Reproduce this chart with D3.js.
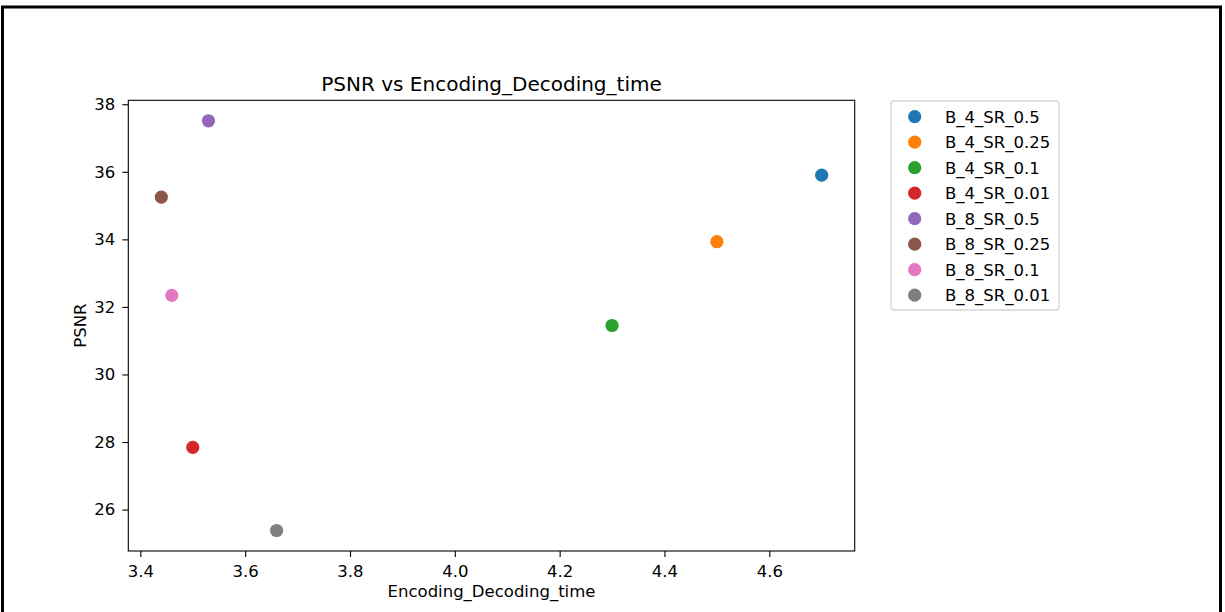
<!DOCTYPE html>
<html>
<head>
<meta charset="utf-8">
<script src="https://cdn.jsdelivr.net/npm/d3@7"></script>
<style>
  html, body { margin: 0; padding: 0; background: #fff; }
  svg { display: block; font-family: "DejaVu Sans", sans-serif; }
</style>
</head>
<body>
<svg id="chart" width="1225" height="612"></svg>
<script>
// ---- data ----
const labels = ["B_4_SR_0.5", "B_4_SR_0.25", "B_4_SR_0.1", "B_4_SR_0.01",
                "B_8_SR_0.5", "B_8_SR_0.25", "B_8_SR_0.1", "B_8_SR_0.01"];
const encodingTime = [4.70, 4.50, 4.30, 3.50, 3.53, 3.44, 3.46, 3.66];
const psnr = [35.90, 33.93, 31.45, 27.84, 37.51, 35.25, 32.34, 25.38];
const colors = ["#1f77b4", "#ff7f0e", "#2ca02c", "#d62728",
                "#9467bd", "#8c564b", "#e377c2", "#7f7f7f"];
const xTicks = [3.4, 3.6, 3.8, 4.0, 4.2, 4.4, 4.6];
const yTicks = [26, 28, 30, 32, 34, 36, 38];

const svg = d3.select("#chart");
const W = 1225, H = 612;

// outer frame
svg.append("rect").attr("x", 2.5).attr("y", 7).attr("width", 1218).attr("height", 700)
  .attr("fill", "none").attr("stroke", "#000").attr("stroke-width", 3);

const plot = { left: 128.3, right: 854.7, top: 100.3, bottom: 551 };

function padded(arr) {
  const [mn, mx] = d3.extent(arr);
  const m = (mx - mn) * 0.05;
  return [mn - m, mx + m];
}

const x = d3.scaleLinear().domain(padded(encodingTime)).range([plot.left, plot.right]);
const y = d3.scaleLinear().domain(padded(psnr)).range([plot.bottom, plot.top]);

const fs = 16.5;

// axes
const xAxis = svg.append("g").attr("transform", `translate(0,${plot.bottom})`)
  .call(d3.axisBottom(x).tickValues(xTicks).tickFormat(d3.format(".1f")).tickSize(6).tickPadding(8));
const yAxis = svg.append("g").attr("transform", `translate(${plot.left},0)`)
  .call(d3.axisLeft(y).tickValues(yTicks).tickFormat(d3.format("d")).tickSize(6).tickPadding(7));
[xAxis, yAxis].forEach(g => {
  g.select(".domain").remove();
  g.selectAll("line").attr("stroke", "#000").attr("stroke-width", 1.1);
  g.selectAll("text").attr("font-size", fs).attr("fill", "#000")
    .attr("font-family", "DejaVu Sans, sans-serif");
});

// spines
svg.append("rect").attr("x", plot.left).attr("y", plot.top)
  .attr("width", plot.right - plot.left).attr("height", plot.bottom - plot.top)
  .attr("fill", "none").attr("stroke", "#000").attr("stroke-width", 1.1);

// points
const pts = labels.map((l, i) => ({ label: l, x: encodingTime[i], y: psnr[i], c: colors[i] }));
svg.append("g").selectAll("circle").data(pts).join("circle")
  .attr("cx", d => x(d.x)).attr("cy", d => y(d.y)).attr("r", 6.6)
  .attr("fill", d => d.c);

// title & axis labels
svg.append("text").attr("x", (plot.left + plot.right) / 2).attr("y", 91)
  .attr("text-anchor", "middle").attr("font-size", 20).attr("fill", "#000")
  .text("PSNR vs Encoding_Decoding_time");
svg.append("text").attr("x", (plot.left + plot.right) / 2).attr("y", 597)
  .attr("text-anchor", "middle").attr("font-size", fs).attr("fill", "#000")
  .text("Encoding_Decoding_time");
svg.append("text")
  .attr("transform", `translate(86,${(plot.top + plot.bottom) / 2}) rotate(-90)`)
  .attr("text-anchor", "middle").attr("font-size", fs).attr("fill", "#000")
  .text("PSNR");

// legend
const lg = svg.append("g");
lg.append("rect").attr("x", 891).attr("y", 101).attr("width", 168).attr("height", 209)
  .attr("rx", 3).attr("fill", "#fff").attr("stroke", "#d6d6d6").attr("stroke-width", 1.3);
const row = lg.selectAll("g.item").data(pts).join("g").attr("class", "item")
  .attr("transform", (d, i) => `translate(0,${116.7 + i * 25.5})`);
row.append("circle").attr("cx", 914.7).attr("cy", 0).attr("r", 6.6).attr("fill", d => d.c);
row.append("text").attr("x", 945).attr("y", 0).attr("dy", "0.36em")
  .attr("font-size", fs).attr("fill", "#000").text(d => d.label);
</script>
</body>
</html>
